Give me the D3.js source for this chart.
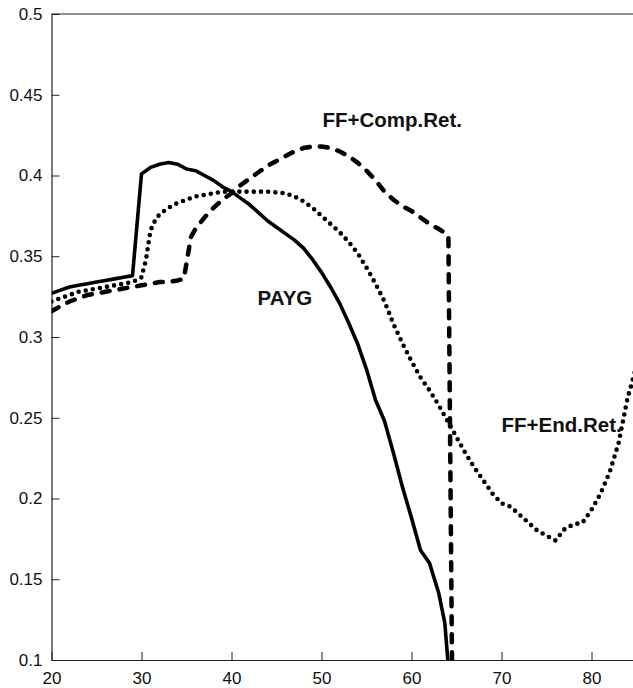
<!DOCTYPE html>
<html><head><meta charset="utf-8">
<script src="https://cdn.jsdelivr.net/npm/d3@7"></script>
<style>body{margin:0;background:#fff}svg{display:block}</style>
</head><body><svg id="c" width="633" height="688"></svg>
<script>
const xTicks = [20,30,40,50,60,70,80];
const yTicks = [0.1,0.15,0.2,0.25,0.3,0.35,0.4,0.45,0.5];
const yTickLabels = ["0.1","0.15","0.2","0.25","0.3","0.35","0.4","0.45","0.5"];

const paygAge = [20,21,22,23,24,25,26,27,28,29,30,31,32,33,34,35,36,37,38,39,40,41,42,43,44,45,46,47,48,49,50,51,52,53,54,55,56,57,58,59,60,61,62,63,63.7,64.05];
const paygVal = [0.327,0.329,0.331,0.332,0.333,0.334,0.335,0.336,0.337,0.338,0.401,0.405,0.407,0.408,0.407,0.404,0.403,0.400,0.397,0.393,0.390,0.386,0.382,0.377,0.372,0.368,0.364,0.360,0.355,0.348,0.340,0.331,0.321,0.309,0.296,0.280,0.261,0.248,0.228,0.207,0.188,0.168,0.160,0.142,0.123,0.099];

const compAge = [20,21,22,23,24,25,26,27,28,29,30,31,32,33,34,34.7,35.5,36,37,38,39,40,41,42,43,44,45,46,47,48,49,50,51,52,53,54,55,56,57,58,59,60,61,62,63,64.1,64.5];
const compVal = [0.316,0.319,0.322,0.324,0.326,0.327,0.328,0.329,0.330,0.331,0.332,0.333,0.334,0.334,0.335,0.336,0.362,0.367,0.374,0.380,0.385,0.389,0.394,0.398,0.402,0.406,0.409,0.412,0.415,0.417,0.418,0.418,0.417,0.415,0.412,0.408,0.403,0.397,0.390,0.385,0.381,0.378,0.374,0.370,0.367,0.363,0.099];

const endAge = [20,21,22,23,24,25,26,27,28,29,30,30.5,31,31.5,32,33,34,35,36,37,38,39,40,42,44,46,47,48,49,50,51,52,53,54,55,56,57,58,59,60,61,62,63,64,65,66,67,68,69,70,71,72,73,74,75,76,77,78,79,80,81,82,83,84,85];
const endVal = [0.322,0.324,0.326,0.328,0.329,0.330,0.331,0.332,0.333,0.334,0.337,0.348,0.366,0.372,0.376,0.380,0.383,0.385,0.387,0.388,0.389,0.390,0.390,0.390,0.390,0.389,0.387,0.384,0.380,0.375,0.370,0.365,0.359,0.352,0.343,0.333,0.322,0.308,0.296,0.285,0.275,0.267,0.258,0.248,0.238,0.228,0.219,0.211,0.203,0.197,0.195,0.190,0.185,0.180,0.177,0.174,0.181,0.184,0.185,0.193,0.203,0.216,0.234,0.262,0.282];

const labels = [
  {text:"FF+Comp.Ret.", age:50.1, val:0.430},
  {text:"PAYG", age:42.9, val:0.320},
  {text:"FF+End.Ret.", age:70.0, val:0.2414}
];

const svg = d3.select("#c");
const L=51.5, R=636.5, T=14, B=660;
const x = d3.scaleLinear().domain([20,85]).range([L,R]);
const y = d3.scaleLinear().domain([0.1,0.5]).range([B,T]);

svg.append("defs").append("clipPath").attr("id","clip")
  .append("rect").attr("x",L).attr("y",T).attr("width",R-L).attr("height",B-T);

const font = "'Liberation Sans', Arial, Helvetica, sans-serif";

// frame
svg.append("line").attr("x1",L).attr("x2",R).attr("y1",T).attr("y2",T).attr("stroke","#222").attr("stroke-width",1.2);
svg.append("line").attr("x1",R).attr("x2",R).attr("y1",T).attr("y2",B).attr("stroke","#222").attr("stroke-width",1.2);

const xAxis = d3.axisBottom(x).tickValues(xTicks).tickSizeInner(-8).tickSizeOuter(0).tickPadding(12);
const gx = svg.append("g").attr("transform",`translate(0,${B})`).call(xAxis);
const yAxis = d3.axisLeft(y).tickValues(yTicks).tickFormat((d,i)=>yTickLabels[i]).tickSizeInner(-8).tickSizeOuter(0).tickPadding(9);
const gy = svg.append("g").attr("transform",`translate(${L},0)`).call(yAxis);
[gx,gy].forEach(g=>{
  g.select(".domain").attr("stroke","#222").attr("stroke-width",1.2);
  g.selectAll(".tick line").attr("stroke","#222").attr("stroke-width",1);
  g.selectAll(".tick text").attr("font-family",font).attr("font-size",17).attr("fill","#111");
});

const line = d3.line().x(d=>x(d[0])).y(d=>y(d[1]));
const g = svg.append("g").attr("clip-path","url(#clip)");

g.append("path").datum(d3.zip(endAge,endVal)).attr("d",line)
  .attr("fill","none").attr("stroke","#000").attr("stroke-width",4.6)
  .attr("stroke-linecap","round").attr("stroke-dasharray","0 7.2");
g.append("path").datum(d3.zip(compAge,compVal)).attr("d",line)
  .attr("fill","none").attr("stroke","#000").attr("stroke-width",4.5)
  .attr("stroke-linecap","round").attr("stroke-dasharray","8 10");
g.append("path").datum(d3.zip(paygAge,paygVal)).attr("d",line)
  .attr("fill","none").attr("stroke","#000").attr("stroke-width",3.6)
  .attr("stroke-linejoin","round");

svg.selectAll(".lbl").data(labels).enter().append("text")
  .attr("x",d=>x(d.age)).attr("y",d=>y(d.val))
  .attr("font-family",font).attr("font-weight","bold").attr("font-size",20.5)
  .attr("fill","#111").text(d=>d.text);
</script></body></html>
